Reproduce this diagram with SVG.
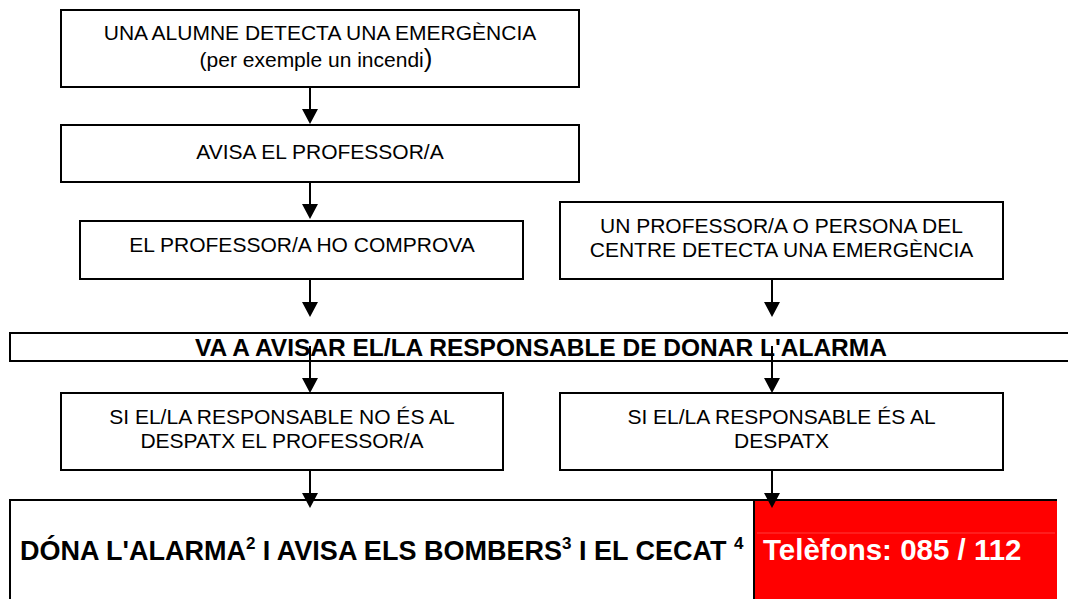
<svg xmlns="http://www.w3.org/2000/svg" width="1068" height="599" viewBox="0 0 1068 599">
<style>
.box{fill:#fff;stroke:#000;stroke-width:2}
.t{font-family:"Liberation Sans",Arial,sans-serif;font-size:21px;fill:#000;text-anchor:middle}
.b{font-family:"Liberation Sans",Arial,sans-serif;font-weight:bold;fill:#000}
.c{stroke:#000;stroke-width:2;fill:none;marker-end:url(#ah)}
</style>
<defs>
<marker id="ah" markerUnits="userSpaceOnUse" markerWidth="15" markerHeight="16" viewBox="0 0 15 16" refX="5" refY="8" orient="auto">
<path d="M0,0 L15,8 L0,16 Z" fill="#000"/>
</marker>
</defs>
<rect width="1068" height="599" fill="#fff"/>
<g id="n8">
<rect x="10" y="500" width="1047" height="120" fill="#fff"/>
<path d="M10,620 V500 H1057" fill="none" stroke="#000" stroke-width="2"/>
<text class="b" x="20" y="560" font-size="27">DÓNA L'ALARMA<tspan font-size="17" dy="-11">2</tspan><tspan dy="11"> I AVISA ELS BOMBERS</tspan><tspan font-size="17" dy="-11">3</tspan><tspan dy="11"> I EL CECAT </tspan><tspan font-size="17" dy="-11">4</tspan></text>
</g>
<g id="n9">
<rect x="754" y="501" width="303" height="120" fill="#ff0000"/>
<line x1="754" y1="500" x2="754" y2="599" stroke="#000" stroke-width="2"/>
<line x1="757" y1="533" x2="1055" y2="533" stroke="#ff3b3b" stroke-width="1"/>
<text class="b" x="763" y="560" font-size="29.5" style="fill:#fff">Telèfons: 085 / 112</text>
</g>
<g id="connectors">
<line class="c" x1="310" y1="87" x2="310" y2="114"/>
<line class="c" x1="310" y1="182" x2="310" y2="209"/>
<line class="c" x1="310" y1="279" x2="310" y2="307"/>
<line class="c" x1="772" y1="279" x2="772" y2="307"/>
<line class="c" x1="310" y1="346" x2="310" y2="383"/>
<line class="c" x1="772" y1="346" x2="772" y2="383"/>
<line class="c" x1="310" y1="470" x2="310" y2="498"/>
<line class="c" x1="772" y1="470" x2="772" y2="498"/>
</g>
<g id="n1">
<rect class="box" x="61" y="10" width="518" height="77"/>
<text class="t" x="320" y="40">UNA ALUMNE DETECTA UNA EMERGÈNCIA</text>
<text class="t" x="316" y="67">(per exemple un incendi<tspan font-size="26">)</tspan></text>
</g>
<g id="n2">
<rect class="box" x="61" y="125" width="518" height="57"/>
<text class="t" x="320" y="159">AVISA EL PROFESSOR/A</text>
</g>
<g id="n3">
<rect class="box" x="80" y="221" width="443" height="58"/>
<text class="t" x="302" y="252">EL PROFESSOR/A HO COMPROVA</text>
</g>
<g id="n4">
<rect class="box" x="560" y="202" width="443" height="77"/>
<text class="t" x="781.5" y="233">UN PROFESSOR/A O PERSONA DEL</text>
<text class="t" x="781.5" y="257">CENTRE DETECTA UNA EMERGÈNCIA</text>
</g>
<g id="n5">
<rect class="box" x="10" y="333" width="1070" height="28" fill-opacity="0"/>
<text class="b" x="541" y="356" font-size="24.5" text-anchor="middle">VA A AVISAR EL/LA RESPONSABLE DE DONAR L'ALARMA</text>
</g>
<g id="n6">
<rect class="box" x="61" y="393" width="442" height="77"/>
<text class="t" x="282" y="424">SI EL/LA RESPONSABLE NO ÉS AL</text>
<text class="t" x="282" y="448">DESPATX EL PROFESSOR/A</text>
</g>
<g id="n7">
<rect class="box" x="560" y="393" width="443" height="77"/>
<text class="t" x="781.5" y="424">SI EL/LA RESPONSABLE ÉS AL</text>
<text class="t" x="781.5" y="448">DESPATX</text>
</g>
</svg>
